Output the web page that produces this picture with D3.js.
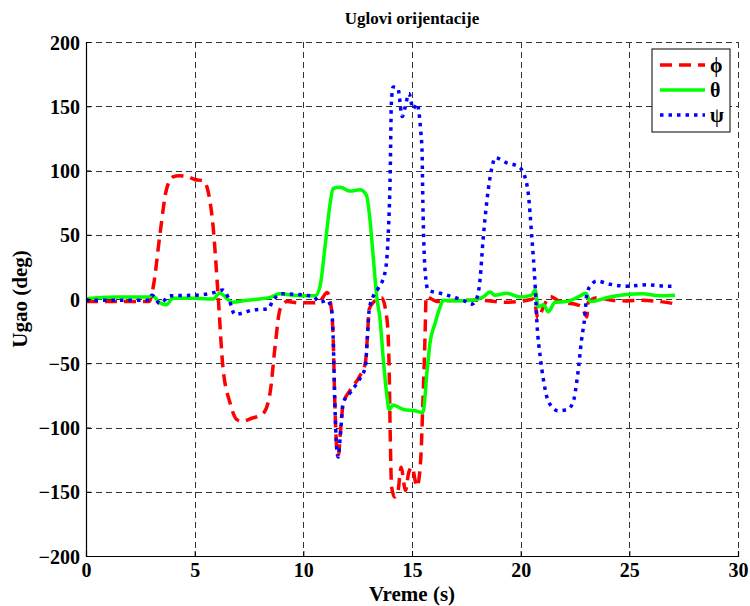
<!DOCTYPE html>
<html>
<head>
<meta charset="utf-8">
<script src="https://cdn.jsdelivr.net/npm/d3@7"></script>
<style>
  body { margin: 0; background: #fff; }
  svg { font-family: "Liberation Serif", "Times New Roman", serif; font-weight: bold; }
  .grid line { stroke: #333; stroke-width: 1; stroke-dasharray: 6,4; }
  .axis path, .axis line { stroke: #000; }
  .axis text { font-size: 20px; font-weight: bold; font-family: "Liberation Serif", serif; }
</style>
</head>
<body>
<svg class="chart" width="750" height="606"></svg>
<script>
// time (s) and angle (deg) for each series
const phiT = [0, 1, 2, 2.9, 3.1, 3.4, 3.7, 4.0, 4.3, 4.7, 5.0, 5.4, 5.6, 5.85, 6.07, 6.3, 6.63, 6.95, 7.2, 7.6, 8.15, 8.47, 8.7, 8.93, 9.25, 9.8, 10.5, 10.8, 11.1, 11.3, 11.37, 11.45, 11.55, 11.62, 11.7, 11.83, 12.15, 12.6, 12.85, 12.95, 13.03, 13.2, 13.6, 13.85, 13.95, 14.0, 14.06, 14.2, 14.35, 14.5, 14.7, 14.85, 15.0, 15.23, 15.4, 15.5, 15.6, 15.65, 15.9, 16.15, 17, 18, 19.4, 20.3, 20.6, 20.8, 21.05, 21.35, 21.7, 22.1, 22.6, 22.8, 23.05, 23.1, 23.5, 24.2, 24.9, 25.5, 26.4, 27.0, 27.1];
const phiV = [-2, -2, -2, -2, 10, 50, 85, 95, 96, 95, 93, 92, 85, 56, 5, -53, -81, -94, -95, -93, -89, -73, -37, -8, -2, -3, -3, -1, 5, -9, -29, -81, -118, -121, -105, -82, -71, -60, -50, -29, -8, -3, 1, -16, -55, -107, -146, -154, -150, -131, -149, -135, -131, -146, -125, -81, -29, 2, 0, -2, -1, -1, -2.5, -1, 0, -15, -6, 2, -1, -3, -4.5, -6, -14, -3, 1, -1, -1.5, -1, -2, -3.5, -4];

const thetaT = [0, 0.5, 1.5, 2.9, 3.03, 3.4, 3.7, 4.0, 5, 5.85, 6.15, 6.75, 7.4, 8.5, 8.9, 9.5, 10.3, 10.55, 10.77, 11.0, 11.23, 11.37, 11.7, 12.15, 12.6, 12.9, 13.07, 13.2, 13.38, 13.53, 13.67, 13.85, 13.95, 14.13, 14.6, 15.13, 15.5, 15.7, 15.83, 16.06, 16.3, 16.43, 17.0, 17.8, 18.27, 18.6, 18.8, 19.35, 19.97, 20.5, 20.67, 20.8, 21.05, 21.27, 21.58, 22.1, 22.7, 23.0, 23.2, 24.1, 25.6, 26.4, 27.1];
const thetaV = [0, 1, 1.5, 1.5, 3, -3, -4.5, 0.5, 0.5, 0, 4.5, -2.5, -1, 1.5, 4, 3, 2.5, 2.5, 10, 41, 74, 86, 87, 84, 85, 81, 61, 36, 1.5, -16, -45, -76, -86, -82.5, -86, -87, -88.5, -55, -34, -19, -6, -1, -1.5, -1, 1.5, 5.5, 3, 4.5, 1.5, 3, 7, -6, -4.5, -10, -2.5, -2, 2, 4.5, -2, 1.5, 4, 2.5, 3];

const psiT = [0, 1, 2, 2.9, 3.03, 3.4, 3.87, 5.1, 6.0, 6.3, 6.55, 6.85, 7.7, 8.4, 8.6, 9.05, 10.3, 10.45, 10.77, 11.1, 11.3, 11.37, 11.45, 11.53, 11.6, 11.7, 11.83, 12.15, 12.6, 12.85, 12.95, 13.03, 13.2, 13.45, 13.75, 13.9, 14.0, 14.05, 14.13, 14.35, 14.55, 14.68, 14.86, 15.05, 15.23, 15.4, 15.46, 15.5, 15.6, 15.74, 16.3, 16.9, 17.35, 17.75, 18.0, 18.13, 18.27, 18.45, 18.7, 18.82, 19.36, 19.9, 20.1, 20.35, 20.5, 20.67, 20.75, 20.9, 21.05, 21.2, 21.45, 21.72, 22.13, 22.4, 22.63, 22.8, 22.95, 23.05, 23.3, 23.5, 24.1, 24.9, 25.8, 26.7, 27.1];
const psiV = [-1, -1, -1, -1, 3, -3.5, 2.5, 3, 5.5, 7, 1, -12, -8.5, -7.5, -1, 4, 2.5, 2, -2.5, -1, -8.5, -29, -81, -115, -123, -107, -81, -73, -62, -53, -29, -8.5, 1.5, 8.5, 20, 48, 100, 152, 165, 164, 142, 149, 160, 148, 152, 131, 116, 75, 22.5, 7, 4.5, 1.5, -1, -4, 1.5, 15, 46, 77, 104, 110, 106, 103, 99, 82, 51, 9, -19, -45, -63, -76, -84, -87, -86, -81, -58, -32, -14, 4.5, 12, 14, 11.5, 10, 11, 10, 10];

const xTicks = [0, 5, 10, 15, 20, 25, 30];
const yTicks = [-200, -150, -100, -50, 0, 50, 100, 150, 200];
const seriesNames = ["\u03d5", "\u03b8", "\u03c8"];

const svg = d3.select(".chart");
const margin = { top: 42, right: 12, bottom: 50, left: 86 };
const width = +svg.attr("width") - margin.left - margin.right;
const height = +svg.attr("height") - margin.top - margin.bottom;

const x = d3.scaleLinear().domain([0, 30]).range([0, width]);
const y = d3.scaleLinear().domain([-200, 200]).range([height, 0]);

const g = svg.append("g")
  .attr("transform", "translate(" + margin.left + "," + margin.top + ")");

// dashed grid, including the top and right edges
g.append("g").attr("class", "grid")
  .selectAll("line").data(xTicks).join("line")
  .attr("x1", d => Math.round(x(d)) + 0.5).attr("x2", d => Math.round(x(d)) + 0.5)
  .attr("y1", 0).attr("y2", height);
g.append("g").attr("class", "grid")
  .selectAll("line").data(yTicks).join("line")
  .attr("x1", 0).attr("x2", width)
  .attr("y1", d => Math.round(y(d)) + 0.5).attr("y2", d => Math.round(y(d)) + 0.5);

g.append("defs").append("clipPath").attr("id", "clip")
  .append("rect").attr("width", width).attr("height", height);

const series = [
  { t: phiT, v: phiV, color: "#ff0000", dash: "12,7" },
  { t: thetaT, v: thetaV, color: "#00ff00", dash: null },
  { t: psiT, v: psiV, color: "#0000ff", dash: "3.5,5" }
];

const line = d3.line()
  .curve(d3.curveMonotoneX)
  .x(d => x(d[0]))
  .y(d => y(d[1]));

const plot = g.append("g").attr("clip-path", "url(#clip)");
series.forEach(s => {
  plot.append("path")
    .datum(d3.zip(s.t, s.v))
    .attr("fill", "none")
    .attr("stroke", s.color)
    .attr("stroke-width", 3.5)
    .attr("stroke-dasharray", s.dash)
    .attr("d", line);
});

// axes
const xAxis = g.append("g").attr("class", "axis")
  .attr("transform", "translate(0," + height + ")")
  .call(d3.axisBottom(x).tickValues(xTicks).tickSize(-5).tickPadding(7));
const yAxis = g.append("g").attr("class", "axis")
  .call(d3.axisLeft(y).tickValues(yTicks).tickSize(-5).tickPadding(6));
[xAxis, yAxis].forEach(a => a.select(".domain").attr("stroke-width", 1.2));
xAxis.selectAll("text").attr("fill", "#000");
yAxis.selectAll("text").attr("fill", "#000").attr("dy", "0.35em");

// titles
svg.append("text")
  .attr("x", margin.left + width / 2).attr("y", 24)
  .attr("text-anchor", "middle").attr("font-size", 17)
  .text("Uglovi orijentacije");
svg.append("text")
  .attr("x", margin.left + width / 2).attr("y", 601)
  .attr("text-anchor", "middle").attr("font-size", 21)
  .text("Vreme (s)");
svg.append("text")
  .attr("transform", "translate(27," + (margin.top + height / 2) + ") rotate(-90)")
  .attr("text-anchor", "middle").attr("font-size", 21)
  .text("Ugao (deg)");

// legend
const legend = svg.append("g").attr("transform", "translate(652,49)");
legend.append("rect")
  .attr("width", 78).attr("height", 83)
  .attr("fill", "#fff").attr("stroke", "#000").attr("stroke-width", 1);
series.forEach((s, i) => {
  const ly = 16 + i * 25;
  legend.append("line")
    .attr("x1", 8).attr("x2", 53).attr("y1", ly).attr("y2", ly)
    .attr("stroke", s.color).attr("stroke-width", 3.5)
    .attr("stroke-dasharray", s.dash);
  legend.append("text")
    .attr("x", 58).attr("y", ly + 7)
    .attr("font-size", 20)
    .text(seriesNames[i]);
});
</script>
</body>
</html>
